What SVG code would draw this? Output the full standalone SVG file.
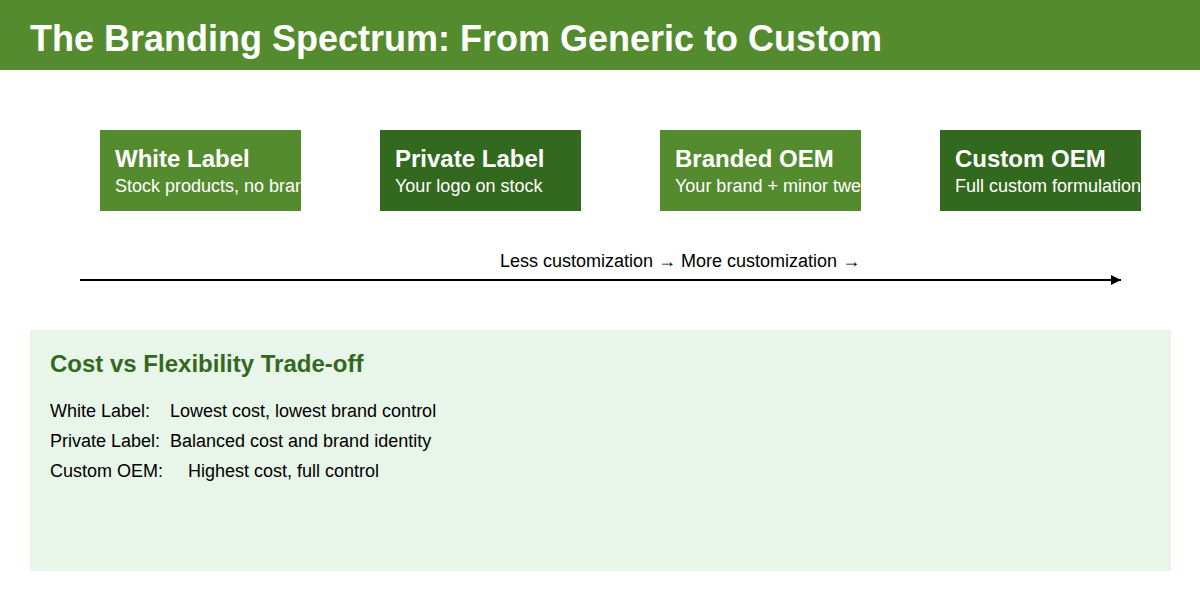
<svg xmlns="http://www.w3.org/2000/svg" width="1200" height="600" viewBox="0 0 1200 600">
<style>
text{font-family:"Liberation Sans",Arial,sans-serif}
.t{font-size:24px;font-weight:bold;fill:#fff}
.s{font-size:18px;fill:#fff}
.b{font-size:18px;fill:#000}
.light{fill:#558b2f}
.dark{fill:#33691e}
</style>
<defs>
<marker id="ah" viewBox="0 0 10 10" refX="10" refY="5" markerWidth="10" markerHeight="10" markerUnits="userSpaceOnUse" orient="auto"><path d="M0,0 L10,5 L0,10 z" fill="#000"/></marker>
<clipPath id="c1"><rect x="100" y="130" width="201" height="81"/></clipPath>
<clipPath id="c2"><rect x="380" y="130" width="201" height="81"/></clipPath>
<clipPath id="c3"><rect x="660" y="130" width="201" height="81"/></clipPath>
<clipPath id="c4"><rect x="940" y="130" width="201" height="81"/></clipPath>
</defs>
<rect width="1200" height="600" fill="#fff"/>
<g id="header">
<rect x="0" y="0" width="1200" height="70" fill="#558b2f"/>
<text x="30" y="51" font-size="36" font-weight="bold" fill="#fff">The Branding Spectrum: From Generic to Custom</text>
</g>
<g id="node-white-label" clip-path="url(#c1)">
<rect class="light" x="100" y="130" width="201" height="81"/>
<text class="t" x="115" y="167">White Label</text>
<text class="s" x="115" y="192">Stock products, no branding</text>
</g>
<g id="node-private-label" clip-path="url(#c2)">
<rect class="dark" x="380" y="130" width="201" height="81"/>
<text class="t" x="395" y="167">Private Label</text>
<text class="s" x="395" y="192">Your logo on stock</text>
</g>
<g id="node-branded-oem" clip-path="url(#c3)">
<rect class="light" x="660" y="130" width="201" height="81"/>
<text class="t" x="675" y="167">Branded OEM</text>
<text class="s" x="675" y="192">Your brand + minor tweaks</text>
</g>
<g id="node-custom-oem" clip-path="url(#c4)">
<rect class="dark" x="940" y="130" width="201" height="81"/>
<text class="t" x="955" y="167">Custom OEM</text>
<text class="s" x="955" y="192">Full custom formulation</text>
</g>
<g id="connectors">
<line x1="80" y1="280" x2="1121" y2="280" stroke="#000" stroke-width="2" marker-end="url(#ah)"/>
<text class="b" x="500" y="267">Less customization → More customization →</text>
</g>
<g id="tradeoff-panel">
<rect x="30" y="330" width="1141" height="241" fill="#e8f5e9"/>
<text x="50" y="372" font-size="24" font-weight="bold" fill="#33691e">Cost vs Flexibility Trade-off</text>
<text class="b" x="50" y="417">White Label:</text>
<text class="b" x="170" y="417">Lowest cost, lowest brand control</text>
<text class="b" x="50" y="447">Private Label:</text>
<text class="b" x="170" y="447">Balanced cost and brand identity</text>
<text class="b" x="50" y="477">Custom OEM:</text>
<text class="b" x="188" y="477">Highest cost, full control</text>
</g>
</svg>
